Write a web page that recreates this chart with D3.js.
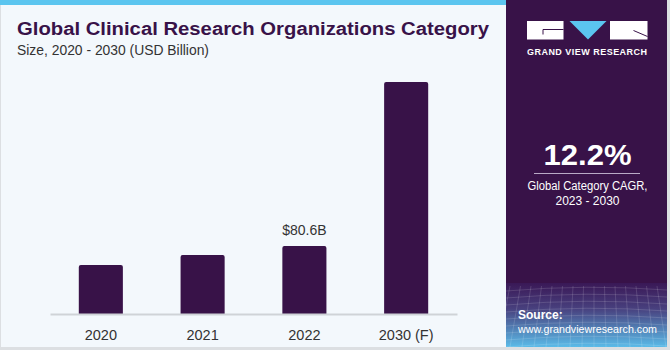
<!DOCTYPE html>
<html>
<head>
<meta charset="utf-8">
<script src="https://cdn.jsdelivr.net/npm/d3@7"></script>
<style>
    body { margin: 0; background: #ffffff; }
    svg { display: block; font-family: "Liberation Sans", Arial, sans-serif; }
    .axis path { stroke: #cfd3d7; stroke-width: 2; }
</style>
</head>
<body>
<div id="chart"></div>
<script>
// Data
const years = ["2020", "2021", "2022", "2030 (F)"];
const sizes = [58.1, 69.9, 80.6, 275];
const labelled = { "2022": "$80.6B" };

const params = {
    selector: "chart",
    width: 670,
    height: 350,
    panelX: 506,
    base: 314,
    margin: {left: 50, right: 213}
}

const purple = "#381248";
const blue = "#5bc5ef";

const svg = d3.select(`#${params.selector}`)
    .append("svg")
    .attr("width", params.width)
    .attr("height", params.height);

// frame + panels
svg.append("rect").attr("width", params.width).attr("height", params.height).attr("fill", "#dcdfe2");
svg.append("rect").attr("x", 1).attr("y", 0).attr("width", params.panelX - 1).attr("height", 347).attr("fill", "#f3f8fc");
svg.append("rect").attr("x", 0).attr("y", 0).attr("width", params.panelX).attr("height", 5).attr("fill", blue);
svg.append("rect").attr("x", params.panelX).attr("y", 0).attr("width", 161).attr("height", 347).attr("fill", purple);

// source gradient
const defs = svg.append("defs");
const grad = defs.append("linearGradient").attr("id", "src").attr("x1", 0).attr("y1", 0).attr("x2", 0).attr("y2", 1);
grad.append("stop").attr("offset", "0%").attr("stop-color", "#3a1856");
grad.append("stop").attr("offset", "40%").attr("stop-color", "#48407e");
grad.append("stop").attr("offset", "100%").attr("stop-color", "#5bbbe8");
svg.append("rect").attr("x", params.panelX).attr("y", 283).attr("width", 161).attr("height", 64).attr("fill", "url(#src)");

// faint mesh
const mesh = svg.append("g").attr("stroke", "#ffffff").attr("stroke-opacity", 0.2).attr("fill", "none").attr("stroke-width", 0.7);
for (let k = 0; k < 9; k++) {
    let yy = 288 + k * 7;
    mesh.append("path").attr("d", `M${params.panelX},${yy + 3} Q586,${yy - 4} 667,${yy + 2}`);
}
for (let k = 0; k < 16; k++) {
    let xx = params.panelX + 4 + k * 10.5;
    mesh.append("path").attr("d", `M${xx},286 L${xx + (k - 8) * 1.5},347`);
}

// Title
svg.append("text")
    .attr("x", 17).attr("y", 35)
    .attr("font-size", 17.5).attr("font-weight", "bold")
    .attr("fill", purple)
    .attr("textLength", 472).attr("lengthAdjust", "spacingAndGlyphs")
    .text("Global Clinical Research Organizations Category");

svg.append("text")
    .attr("x", 17).attr("y", 55)
    .attr("font-size", 13.8).attr("fill", "#333333")
    .attr("textLength", 192).attr("lengthAdjust", "spacingAndGlyphs")
    .text("Size, 2020 - 2030 (USD Billion)");

// Scales
const x = d3.scaleBand()
    .domain(years)
    .range([params.margin.left, params.panelX - 49])
    .paddingInner(0.567)
    .paddingOuter(0.283);

const y = d3.scaleLinear()
    .domain([0, 280])
    .range([params.base, params.base - 280 * 0.8437]);

svg.append("g").selectAll("path")
    .data(years)
    .join("path")
    .attr("fill", purple)
    .attr("d", (d, i) => {
        let x0 = x(d), w = x.bandwidth(), y0 = y(sizes[i]), r = 2;
        return `M${x0},${params.base}V${y0 + r}Q${x0},${y0} ${x0 + r},${y0}H${x0 + w - r}Q${x0 + w},${y0} ${x0 + w},${y0 + r}V${params.base}Z`;
    });

svg.append("g")
    .attr("class", "axis")
    .attr("transform", `translate(0, ${params.base})`)
    .call(d3.axisBottom(x).tickSize(0).tickPadding(16).tickSizeOuter(0))
    .call(g => g.selectAll("text")
        .attr("font-family", "Liberation Sans, Arial, sans-serif")
        .attr("font-size", 14.5)
        .attr("fill", "#333333"));

svg.append("g").selectAll("text")
    .data(years.filter(d => labelled[d]))
    .join("text")
    .attr("x", d => x(d) + x.bandwidth() / 2)
    .attr("y", d => y(sizes[years.indexOf(d)]) - 10.5)
    .attr("text-anchor", "middle")
    .attr("font-size", 14).attr("fill", "#333333")
    .text(d => labelled[d]);

// Logo
const logo = svg.append("g");
logo.append("rect").attr("x", 527).attr("y", 21).attr("width", 36.5).attr("height", 18.5).attr("fill", "#ffffff");
logo.append("path").attr("d", "M543,34.5V29.5H563.5").attr("stroke", purple).attr("stroke-width", 1).attr("fill", "none");
logo.append("path").attr("d", "M569.5,21H606.5L588,39.5Z").attr("fill", blue);
logo.append("rect").attr("x", 610).attr("y", 21).attr("width", 37.5).attr("height", 18.5).attr("fill", "#ffffff");
logo.append("path").attr("d", "M633.5,30.5L647.5,36.5").attr("stroke", purple).attr("stroke-width", 1).attr("fill", "none");
logo.append("text")
    .attr("x", 587).attr("y", 55)
    .attr("text-anchor", "middle")
    .attr("font-size", 9).attr("font-weight", "bold").attr("fill", "#ffffff")
    .attr("textLength", 120).attr("lengthAdjust", "spacing")
    .text("GRAND VIEW RESEARCH");

// CAGR
svg.append("text")
    .attr("x", 587.5).attr("y", 165)
    .attr("text-anchor", "middle")
    .attr("font-size", 29).attr("font-weight", "bold").attr("fill", "#ffffff")
    .attr("textLength", 88).attr("lengthAdjust", "spacingAndGlyphs")
    .text("12.2%");

svg.append("line")
    .attr("x1", 534).attr("x2", 640).attr("y1", 173.5).attr("y2", 173.5)
    .attr("stroke", "#b9a9c6").attr("stroke-width", 1);

svg.append("text")
    .attr("x", 587.5).attr("y", 189.5)
    .attr("text-anchor", "middle")
    .attr("font-size", 12).attr("fill", "#ffffff")
    .attr("textLength", 120).attr("lengthAdjust", "spacingAndGlyphs")
    .text("Global Category CAGR,");

svg.append("text")
    .attr("x", 587.5).attr("y", 204.5)
    .attr("text-anchor", "middle")
    .attr("font-size", 12).attr("fill", "#ffffff")
    .text("2023 - 2030");

// Source
svg.append("text")
    .attr("x", 518).attr("y", 319)
    .attr("font-size", 12).attr("font-weight", "bold").attr("fill", "#ffffff")
    .text("Source:");

svg.append("text")
    .attr("x", 518).attr("y", 333)
    .attr("font-size", 11).attr("fill", "#ffffff")
    .attr("textLength", 139).attr("lengthAdjust", "spacingAndGlyphs")
    .text("www.grandviewresearch.com");
</script>
</body>
</html>
